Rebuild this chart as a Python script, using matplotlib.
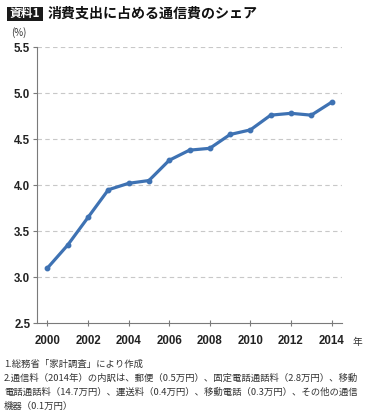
import matplotlib
matplotlib.use("Agg")
import matplotlib.pyplot as plt
from matplotlib.patches import Rectangle

years = [2000, 2001, 2002, 2003, 2004, 2005, 2006, 2007, 2008, 2009, 2010, 2011, 2012, 2013, 2014]
share = [3.10, 3.35, 3.65, 3.95, 4.02, 4.05, 4.27, 4.38, 4.40, 4.55, 4.60, 4.76, 4.78, 4.76, 4.90]
xticks = [2000, 2002, 2004, 2006, 2008, 2010, 2012, 2014]
yticks = [2.5, 3.0, 3.5, 4.0, 4.5, 5.0, 5.5]

title_tag = "資料1"
title = "消費支出に占める通信費のシェア"
notes = [
    "1.総務省「家計調査」により作成",
    "2.通信料（2014年）の内訳は、郵便（0.5万円）、固定電話通話料（2.8万円）、移動",
    "電話通話料（14.7万円）、運送料（0.4万円）、移動電話（0.3万円）、その他の通信",
    "機器（0.1万円）",
]

plt.rcParams['font.family'] = ['Noto Sans CJK JP', 'DejaVu Sans']

W, H = 373, 416
fig = plt.figure(figsize=(W / 100, H / 100), dpi=100)
ax = fig.add_axes([37.3 / W, 1 - 323.3 / H, (341.7 - 37.3) / W, (323.3 - 47) / H])

ax.plot(years, share, color='#3e72b3', linewidth=2.3, marker='o', markersize=3.2,
        solid_joinstyle='round', zorder=3)
ax.set_xlim(1999.5, 2014.5)
ax.set_ylim(2.5, 5.5)
ax.set_xticks(xticks)
ax.set_yticks(yticks)
ax.set_yticklabels([f"{v:.1f}" for v in yticks])
for v in yticks[1:]:
    ax.axhline(v, color='#c8c8c8', linewidth=0.8, linestyle=(0, (4, 3)), zorder=1)

for s in ['top', 'right']:
    ax.spines[s].set_visible(False)
for s in ['left', 'bottom']:
    ax.spines[s].set_color('#7a7a7a')
    ax.spines[s].set_linewidth(0.8)

ax.tick_params(axis='x', direction='inout', length=5, width=0.8, color='#7a7a7a', pad=6)
ax.tick_params(axis='y', direction='out', length=3, width=0.8, color='#7a7a7a', pad=2)
for lab in ax.get_xticklabels() + ax.get_yticklabels():
    lab.set_fontfamily(['Liberation Sans', 'DejaVu Sans'])
    lab.set_fontweight('bold')
    lab.set_fontsize(8.3)
    lab.set_color('#222222')

# Title
fig.patches.append(Rectangle((7 / W, 1 - 20.5 / H), 36 / W, 14 / H, transform=fig.transFigure,
                             facecolor='#1a1a1a', edgecolor='none'))
fig.text(25 / W, 1 - 13.5 / H, title_tag, color='white', fontsize=8.5, fontweight='bold',
         ha='center', va='center')
fig.text(48 / W, 1 - 13.5 / H, title, color='#111111', fontsize=10.1, fontweight='bold',
         ha='left', va='center')

fig.text(11 / W, 1 - 33 / H, "(%)", color='#333333', fontsize=7, ha='left', va='center')
fig.text(357 / W, 1 - 342 / H, "年", color='#333333', fontsize=7, ha='center', va='center')

note_y = [364.5, 378.5, 392.5, 406.5]
for t, y in zip(notes, note_y):
    fig.text(4 / W, 1 - y / H, t, color='#333333', fontsize=6.75, ha='left', va='center')

fig.savefig("out.png", dpi=100)
